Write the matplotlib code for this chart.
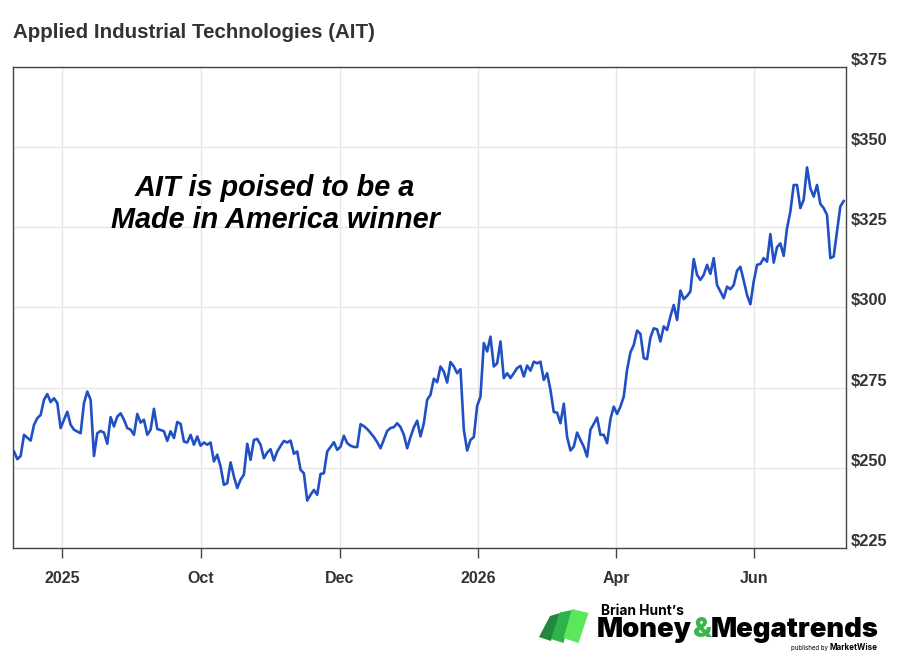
import numpy as np
import matplotlib
matplotlib.use("Agg")
import matplotlib.pyplot as plt
from matplotlib.patches import Polygon
from matplotlib.transforms import ScaledTranslation

# daily closing prices of AIT
price_part1 = [255.1, 252.7, 253.7, 260.3, 259.4, 258.5, 263.4, 265.5, 266.5, 271.2,
               273.0, 270.5, 271.7, 270.2, 262.4, 265.0, 267.5, 263.4, 261.9, 261.3,
               260.8, 270.2, 273.8, 271.2, 253.7, 260.8, 261.5, 261.0, 257.5, 265.8,
               262.9, 266.0, 267.0, 265.0, 262.4, 261.9, 260.3, 266.8, 264.1, 265.0,
               260.3, 261.9, 268.4, 262.1, 261.8, 261.4, 258.4, 261.4, 259.3, 264.3,
               263.7, 258.2, 257.9, 260.3, 257.2, 259.8, 256.9, 257.9, 257.2, 257.9,
               252.0, 254.1, 250.4, 244.7, 245.2, 251.7, 247.3, 243.7, 246.3, 247.9,
               257.5, 252.5, 258.7, 259.0, 257.2, 253.0, 254.8, 255.8, 252.3, 255.1,
               256.8, 258.4, 257.9, 258.5, 254.4, 255.1]
price_part2 = [249.4, 248.3, 239.8, 241.6, 243.1, 241.6, 248.1, 248.3, 255.1, 256.5,
               258.0, 255.6, 256.6, 260.0, 257.7, 256.9, 256.5, 256.5, 263.6, 263.0,
               262.1, 260.9, 259.6, 258.0, 256.1, 258.8, 261.5, 262.4, 262.7, 263.9,
               262.7, 260.3, 256.1, 259.6, 262.6, 264.7, 259.8, 263.9, 271.2, 272.8,
               277.8, 276.7, 281.6, 280.0, 276.6, 283.0, 281.6, 279.5, 280.8, 261.9,
               255.4, 258.7, 259.6, 269.3, 272.2, 288.9, 286.3, 290.9, 281.6, 282.6,
               289.4, 278.0, 279.5, 278.0, 279.5, 281.1, 281.8, 278.5, 281.9, 280.3,
               283.1, 282.6, 283.1, 277.4, 279.5, 274.3, 267.4, 267.2, 263.9, 270.0,
               259.6, 255.4, 256.6, 261.0]
price_part3 = [258.7, 256.6, 253.5, 261.9, 263.7, 265.7, 260.3, 260.3, 257.7, 265.2,
               269.1, 266.8, 269.1, 272.2, 280.6, 286.0, 288.3, 292.8, 291.8, 284.2,
               283.9, 290.6, 293.5, 293.2, 289.4, 294.1, 293.0, 297.2, 300.8, 296.1,
               305.3, 302.6, 303.6, 305.0, 315.1, 310.2, 308.6, 310.2, 313.3, 310.5,
               315.4, 307.0, 305.0, 302.9, 306.5, 305.7, 307.0, 311.5, 312.7, 308.4,
               303.9, 301.0, 308.1, 313.3, 313.6, 315.4, 314.3, 322.9, 314.0, 318.8,
               320.0, 316.1, 324.7, 329.9, 338.2, 338.2, 331.0, 333.6, 343.7, 337.2,
               334.6, 338.2, 332.3, 331.0, 328.9, 315.4, 315.9, 323.7, 331.5, 333.2]
prices = price_part1 + price_part2 + price_part3
days = np.arange(len(prices))

# x tick labels sit at these trading-day indices
tick_days = [14.4, 56.1, 97.8, 139.3, 180.7, 222.1]
tick_labels = ["2025", "Oct", "Dec", "2026", "Apr", "Jun"]
y_ticks = [225, 250, 275, 300, 325, 350, 375]
y_labels = ["$%d" % v for v in y_ticks]

W, H = 900, 664
fig = plt.figure(figsize=(W / 100, H / 100), dpi=100)
plt.rcParams["font.family"] = ["Liberation Sans", "DejaVu Sans"]

ax = fig.add_axes([13 / W, 1 - 548 / H, (846 - 13) / W, (548 - 67) / H])
ax.plot(days, prices, color="#2150c4", lw=1.9, solid_joinstyle="round")
ax.set_xlim(-0.3, 249.7)
ax.set_ylim(225, 375)

ax.set_xticks(tick_days)
ax.set_xticklabels(tick_labels, fontsize=11.5, fontweight="bold", color="#333333")
ax.set_yticks(y_ticks)
ax.set_yticklabels(y_labels, fontsize=11.8, fontweight="bold", color="#333333")
ax.yaxis.tick_right()
ax.tick_params(axis="y", length=0, pad=3.5)
ax.tick_params(axis="x", length=7, width=1, color="#444444", pad=9.5)
for lab in ax.get_yticklabels():
    lab.set_transform(lab.get_transform() + ScaledTranslation(0, 0.08, fig.dpi_scale_trans))

ax.grid(True, color="#e6e6e6", lw=1)
ax.set_axisbelow(True)
for sp in ax.spines.values():
    sp.set_color("#444444")
    sp.set_linewidth(1)

fig.text(13 / W, 1 - 33 / H, "Applied Industrial Technologies (AIT)", fontsize=14.8,
         fontweight="bold", color="#333333", va="center", ha="left")

fig.text(275 / W, 1 - 204 / H, "AIT is poised to be a\nMade in America winner",
         fontsize=20.8, fontweight="bold", fontstyle="italic", color="black",
         ha="center", va="center", linespacing=1.15)

# logo
bars = [
    ([(539, 637), (550, 616), (560, 613), (551, 641)], "#23883a"),
    ([(551, 639), (560, 612.5), (572, 610), (563.5, 643)], "#2db34a"),
    ([(563.5, 638), (572, 609), (588.5, 613), (578.5, 643)], "#5ce65c"),
]
for pts, col in bars:
    fig.patches.append(Polygon([(x / W, 1 - y / H) for x, y in pts], closed=True,
                               transform=fig.transFigure, facecolor=col, edgecolor="none"))

logo_font = ["Inter", "DejaVu Sans"]
fig.text(601 / W, 1 - 615 / H, "Brian Hunt\u2019s", fontsize=9.9, fontweight="bold",
         family=logo_font, color="black", va="baseline")
t1 = fig.text(597 / W, 1 - 637 / H, "Money", fontsize=19.7, fontweight="black",
              family=logo_font, color="black", va="baseline")
fig.canvas.draw()
r = fig.canvas.get_renderer()
bb = t1.get_window_extent(r)
t2 = fig.text(bb.x1 / W, 1 - 637 / H, "&", fontsize=19.7, fontweight="black",
              family=logo_font, color="#3cb54a", va="baseline")
bb2 = t2.get_window_extent(r)
fig.text(bb2.x1 / W, 1 - 637 / H, "Megatrends", fontsize=19.7, fontweight="black",
         family=logo_font, color="black", va="baseline")
mw = fig.text(878 / W, 1 - 650 / H, "MarketWise", fontsize=5.8, fontweight="bold",
              family=logo_font, color="black", va="baseline", ha="right")
bb3 = mw.get_window_extent(r)
fig.text((bb3.x0 - 2) / W, 1 - 650 / H, "published by", fontsize=4.4,
         family=logo_font, color="black", va="baseline", ha="right")

fig.savefig("out.png", dpi=100, facecolor="white")
